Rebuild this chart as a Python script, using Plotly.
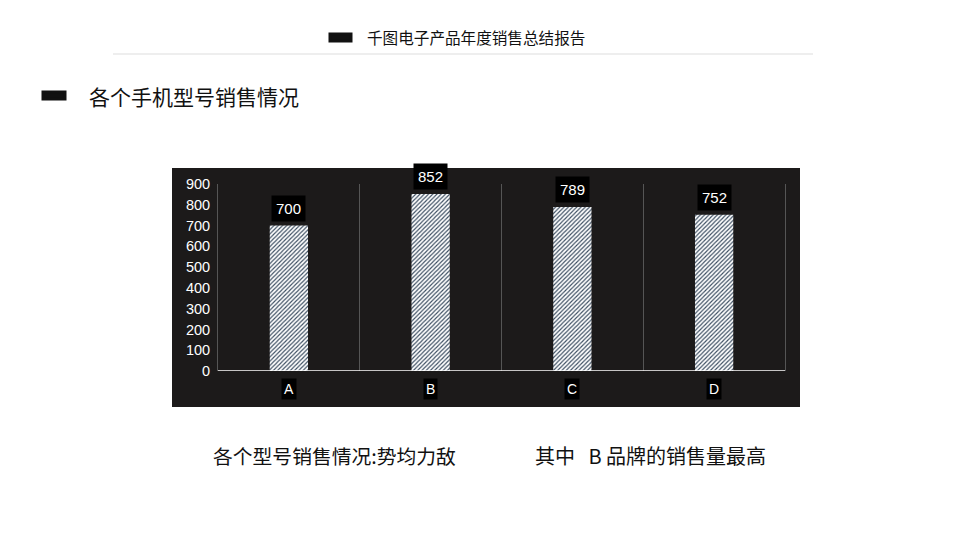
import plotly.graph_objects as go

# 数据
models = ['A', 'B', 'C', 'D']
sales = [700, 852, 789, 752]
y_ticks = [0, 100, 200, 300, 400, 500, 600, 700, 800, 900]

font_cn = 'Noto Sans CJK SC'

fig = go.Figure()
fig.add_bar(
    x=models, y=sales, width=0.27,
    marker=dict(color='white', line=dict(width=0),
                pattern=dict(shape='/', bgcolor='white', fgcolor='#3a4c60',
                             size=3, solidity=0.38, fillmode='replace')),
    hoverinfo='x+y', showlegend=False,
)

# 数据标签(黑底白字)
annotations = []
for m, v in zip(models, sales):
    annotations.append(dict(
        x=m, y=v, xref='x', yref='y', text=str(v), showarrow=False,
        yanchor='bottom', yshift=4, bgcolor='black', borderpad=4,
        font=dict(family='Liberation Sans', size=15, color='white')))
    annotations.append(dict(
        x=m, y=0, xref='x', yref='y', text=m, showarrow=False,
        yanchor='top', yshift=-7, bgcolor='black', borderpad=2,
        font=dict(family='Liberation Sans', size=14, color='white')))

# 页面文字
annotations += [
    dict(x=365, y=37, xref='paper', yref='paper', text='千图电子产品年度销售总结报告',
         showarrow=False, xanchor='left', yanchor='middle',
         font=dict(family=font_cn, size=15.6, color='#111')),
    dict(x=87, y=96, xref='paper', yref='paper', text='各个手机型号销售情况',
         showarrow=False, xanchor='left', yanchor='middle',
         font=dict(family=font_cn, size=21, color='#111')),
    dict(x=211, y=455, xref='paper', yref='paper', text='各个型号销售情况:势均力敌',
         showarrow=False, xanchor='left', yanchor='middle',
         font=dict(family=font_cn, size=19.8, color='#111')),
    dict(x=533, y=455, xref='paper', yref='paper', text='其中\u00a0\u00a0\u00a0B 品牌的销售量最高',
         showarrow=False, xanchor='left', yanchor='middle',
         font=dict(family=font_cn, size=20, color='#111')),
]

# 页面坐标 -> paper 坐标(浏览器 body 有 8px 边距)
OFF = 8
L, R, T, B = 218, 785, 184, 371
W, H = R - L, B - T
def px(x):
    return (x - L) / W
def py(y):
    return (B - y) / H

for a in annotations:
    if a['xref'] == 'paper':
        a['x'] = px(a['x'])
        a['y'] = py(a['y'])

def rrect(x0, x1, y0, y1):
    return 'M {a},{b} L {c},{b} L {c},{d} L {a},{d} Z'.format(
        a=px(x0), c=px(x1), b=py(y0), d=py(y1))

shapes = [
    # 图表深色背景
    dict(type='rect', xref='paper', yref='paper', x0=px(172), x1=px(800),
         y0=py(407), y1=py(168), fillcolor='#1c1a1a', line=dict(width=0), layer='below'),
    # 顶部标题分隔线
    dict(type='line', xref='paper', yref='paper', x0=px(113), x1=px(813),
         y0=py(54), y1=py(54), line=dict(color='#dddddd', width=1)),
    # 黑色圆角标记
    dict(type='path', xref='paper', yref='paper', path=rrect(330, 351, 34, 41),
         fillcolor='#111', line=dict(color='#111', width=3)),
    dict(type='path', xref='paper', yref='paper', path=rrect(43, 65, 92, 99),
         fillcolor='#111', line=dict(color='#111', width=3)),
]

fig.update_layout(
    width=960, height=548,
    margin=dict(l=L - OFF, r=960 - R + OFF, t=T - OFF, b=548 - B + OFF, pad=0),
    paper_bgcolor='white', plot_bgcolor='rgba(0,0,0,0)',
    xaxis=dict(type='category', tickson='boundaries', showgrid=True,
               gridcolor='#555555', gridwidth=1, showticklabels=False,
               ticks='', showline=False, zeroline=False, fixedrange=True),
    yaxis=dict(range=[0, 900], tickvals=y_ticks, showgrid=False,
               showline=True, mirror=True, linecolor='#555555', linewidth=1,
               zeroline=False, ticks='',
               tickfont=dict(family='Liberation Sans', size=14.5, color='white'),
               ticklabelstandoff=4, fixedrange=True),
    annotations=annotations,
    shapes=shapes,
)

# 底部白色基线
fig.add_hline(y=0, line=dict(color='white', width=1.5))

fig.write_html('out.html')
